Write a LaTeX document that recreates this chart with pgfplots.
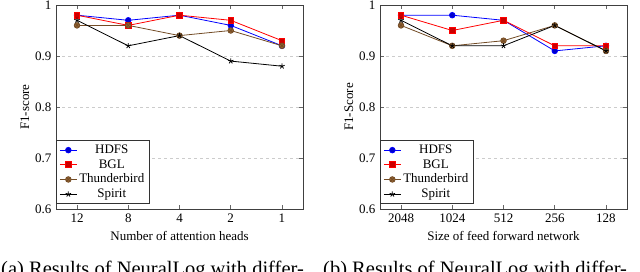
\documentclass[border=0pt]{standalone}
\usepackage{pgfplots}
\pgfplotsset{compat=1.18}
\usepackage{fontspec}
\setmainfont{Liberation Serif}
\begin{document}
\fontsize{13pt}{15.6pt}\selectfont
\begin{tikzpicture}
\pgfplotsset{
  myax/.style={
    scale only axis, width=247pt, height=204pt,
    anchor=south west,
    ymin=0.6, ymax=1, ytick={0.6,0.7,0.8,0.9,1},
    xmin=-0.41, xmax=4.41,
    xtick={0,1,2,3,4},
    ymajorgrids, grid style={dashed, gray!40, line width=0.8pt},
    axis line style={line width=0.9pt, black!75},
    every tick/.style={black!60, line width=0.6pt},
    every axis plot/.append style={line width=0.8pt, mark size=2.8pt},
    /pgf/number format/assume math mode=true,
    tick label style={font=\fontsize{13pt}{15.6pt}\selectfont},
    label style={font=\fontsize{13pt}{15.6pt}\selectfont},
    ylabel shift=-3pt,
    legend style={at={(0,0.025)}, anchor=south west, font=\fontsize{13pt}{15.6pt}\selectfont, draw=black!80, line width=0.8pt},
    legend cell align=center,
  }
}
\begin{axis}[myax, at={(56pt,62pt)},
  xticklabels={12,8,4,2,1},
  xlabel={Number of attention heads}, ylabel={F1-score}]
\addplot coordinates {(0,0.98) (1,0.97) (2,0.98) (3,0.96) (4,0.92)};
\addplot coordinates {(0,0.98) (1,0.96) (2,0.98) (3,0.97) (4,0.93)};
\addplot coordinates {(0,0.96) (1,0.96) (2,0.94) (3,0.95) (4,0.92)};
\addplot coordinates {(0,0.97) (1,0.92) (2,0.94) (3,0.89) (4,0.88)};
\legend{HDFS,BGL,Thunderbird,Spirit}
\end{axis}
\begin{axis}[myax, at={(380pt,62pt)},
  xticklabels={2048,1024,512,256,128},
  xlabel={Size of feed forward network}, ylabel={F1-Score}]
\addplot coordinates {(0,0.98) (1,0.98) (2,0.97) (3,0.91) (4,0.92)};
\addplot coordinates {(0,0.98) (1,0.95) (2,0.97) (3,0.92) (4,0.92)};
\addplot coordinates {(0,0.96) (1,0.92) (2,0.93) (3,0.96) (4,0.91)};
\addplot coordinates {(0,0.97) (1,0.92) (2,0.92) (3,0.96) (4,0.91)};
\legend{HDFS,BGL,Thunderbird,Spirit}
\end{axis}
\node[anchor=base west, inner sep=0pt, font=\fontsize{20.5pt}{24pt}\selectfont] at (1pt,-4.5pt) {(a) Results of NeuralLog with differ-};
\node[anchor=base west, inner sep=0pt, font=\fontsize{20.5pt}{24pt}\selectfont] at (323pt,-4.5pt) {(b) Results of NeuralLog with differ-};
\pgfresetboundingbox
\path[use as bounding box] (0,0) rectangle (640pt,271pt);
\end{tikzpicture}
\end{document}
